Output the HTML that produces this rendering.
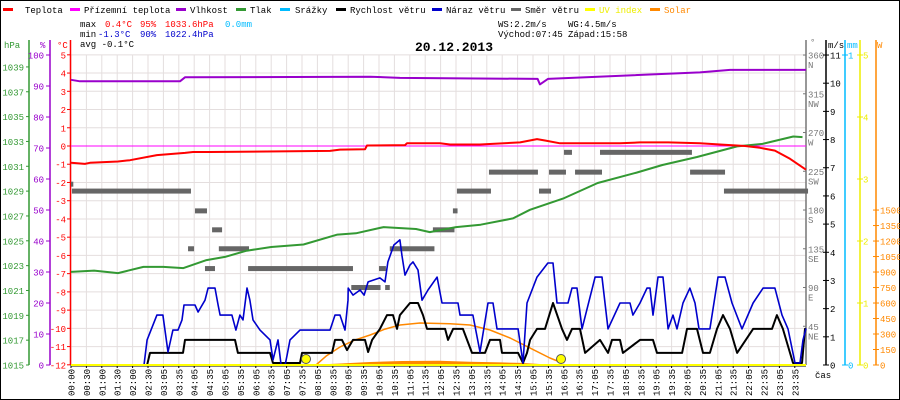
<!DOCTYPE html>
<html><head><meta charset="utf-8"><style>
html,body{margin:0;padding:0;background:#fff;}
svg{display:block;font-family:"Liberation Mono",monospace;font-size:9px;}
</style></head><body>
<svg id="c" width="900" height="400" viewBox="0 0 900 400">
<rect x="0.5" y="0.5" width="899" height="399" fill="#fff" stroke="#000"/>
<g id="legend">
 <g><rect x="3" y="8" width="10" height="3" fill="#f00"/><text x="25" y="13">Teplota</text></g>
 <g><rect x="70" y="8" width="10" height="3" fill="#f0f"/><text x="84" y="13">Přízemní teplota</text></g>
 <g><rect x="176" y="8" width="10" height="3" fill="#90c"/><text x="190" y="13">Vlhkost</text></g>
 <g><rect x="236" y="8" width="10" height="3" fill="#393"/><text x="250" y="13">Tlak</text></g>
 <g><rect x="280" y="8" width="10" height="3" fill="#0bf"/><text x="295" y="13">Srážky</text></g>
 <g><rect x="336" y="8" width="10" height="3" fill="#000"/><text x="350" y="13">Rychlost větru</text></g>
 <g><rect x="432" y="8" width="10" height="3" fill="#00c"/><text x="446" y="13">Náraz větru</text></g>
 <g><rect x="511" y="8" width="10" height="3" fill="#666"/><text x="525" y="13">Směr větru</text></g>
 <g><rect x="585" y="8" width="10" height="3" fill="#ff0"/><text x="599" y="13" fill="#ee0">UV index</text></g>
 <g><rect x="650" y="8" width="10" height="3" fill="#f80"/><text x="664" y="13" fill="#f80">Solar</text></g>
</g>
<g>
 <text x="80" y="27">max</text><text x="105" y="27" fill="#f00">0.4°C</text><text x="140" y="27" fill="#f00">95%</text><text x="165" y="27" fill="#f00">1033.6hPa</text><text x="225" y="27" fill="#0bf">0.0mm</text>
 <text x="80" y="37">min</text><text x="98" y="37" fill="#00c">-1.3°C</text><text x="140" y="37" fill="#00c">90%</text><text x="165" y="37" fill="#00c">1022.4hPa</text>
 <text x="80" y="47">avg -0.1°C</text>
 <text x="498" y="27">WS:2.2m/s</text><text x="568" y="27">WG:4.5m/s</text>
 <text x="498" y="37">Východ:07:45</text><text x="568" y="37">Západ:15:58</text>
</g>
<text x="415" y="51" font-weight="bold" font-size="13">20.12.2013</text>
<g id="grid"></g>
<g id="axes"></g>
<g id="series"></g>
</svg>
<script>
const slotLabels=["00:00","00:30","01:00","01:30","02:00","02:30","03:05","03:35","04:05","04:35","05:05","05:35","06:05","06:35","07:05","07:35","08:05","08:35","09:05","09:35","10:05","10:35","11:05","11:35","12:05","12:35","13:05","13:35","14:05","14:35","15:05","15:35","16:05","16:35","17:05","17:35","18:05","18:35","19:05","19:35","20:05","20:35","21:05","21:35","22:05","22:35","23:05","23:35"];
const tempSlots=[0,0.9,1.23,3.05,3.83,5.58,7.4,7.92,9.03,16.82,17.47,19.09,19.22,21.69,21.82,23.96,24.61,26.56,29.16,30.26,30.78,31.75,35.65,36.95,38.77,40.84,42.14,43.77,44.74,45.71,46.69,47.73];
const tempVals=[-0.92,-0.98,-0.92,-0.85,-0.78,-0.5,-0.38,-0.33,-0.33,-0.27,-0.2,-0.18,0.03,0.05,0.15,0.15,0.08,0.08,0.2,0.38,0.3,0.15,0.15,0.2,0.2,0.15,0.08,0.0,-0.1,-0.25,-0.7,-1.3];
const groundSlots=[0,47.73];
const groundVals=[0,0];
const humSlots=[0,0.58,7.08,7.4,19.42,21.36,30.3,30.45,30.97,40.84,42.79,47.73];
const humVals=[92,91.5,91.5,92.8,93.0,92.6,92.3,90.5,92.3,94.4,95.2,95.2];
const presSlots=[0,1.5,3.05,4.7,6,7.3,8.8,10,11.4,13,15.1,17.3,18.5,20.3,22.4,23.3,25,26.6,28.7,29.8,31.95,34.2,36.75,38.4,40.65,43.25,44.9,46.9,47.5];
const presVals=[1022.5,1022.6,1022.4,1022.9,1022.9,1022.8,1023.45,1023.7,1024.2,1024.5,1024.7,1025.5,1025.6,1026.1,1025.95,1025.7,1026.1,1026.3,1026.8,1027.5,1028.4,1029.65,1030.5,1031.1,1031.75,1032.6,1032.8,1033.4,1033.35];
const gustSlots=[0,4.74,4.94,5.58,5.97,6.3,6.62,6.95,7.21,7.34,8.05,8.25,8.7,8.9,9.35,9.55,9.68,10.45,10.71,10.97,11.17,11.43,11.62,11.82,12.27,12.92,13.12,13.44,13.64,13.9,14.03,14.22,14.87,16.82,17.14,17.47,17.79,17.99,18.0,18.31,18.77,19.03,19.29,20.06,20.39,20.58,20.97,21.36,21.49,21.69,22.01,22.21,22.53,22.79,23.18,23.77,24.09,25.13,25.26,26.1,26.56,27.08,27.4,27.66,29.03,29.35,29.61,30.26,30.97,31.3,31.56,32.27,32.53,32.86,33.18,34.03,34.48,34.87,35.65,36.3,36.49,36.95,37.4,37.6,37.79,38.12,38.44,38.77,39.09,39.35,39.74,40.19,40.52,40.78,41.49,42.01,42.47,42.92,43.57,44.29,44.94,45.71,46.17,46.56,47.01,47.34,47.53,47.73];
const gustVals=[0,0,0.89,1.77,1.77,0.46,1.24,1.24,1.6,2.13,2.13,1.88,2.3,2.73,2.73,2.13,1.77,1.77,1.24,1.77,1.6,2.73,2.3,1.6,1.24,0.89,0.18,0.89,0,0,0.35,0.89,1.24,1.24,1.77,1.77,1.24,2.3,2.73,2.48,2.66,2.48,2.95,3.09,2.95,3.66,4.26,4.44,3.9,3.19,3.55,3.66,3.37,2.3,2.66,3.12,2.2,2.2,1.77,1.77,0.46,2.2,2.2,1.28,1.28,0.07,2.2,3.12,3.62,3.62,2.2,2.2,2.73,2.73,1.28,3.12,3.12,1.28,2.2,2.2,1.77,2.2,2.73,2.73,1.77,3.12,3.12,1.28,1.77,1.28,2.2,2.73,2.2,1.28,1.28,3.12,3.12,2.2,1.28,2.2,2.73,2.73,1.77,1.28,0.07,0.07,0.89,1.3];
const speedSlots=[0,4.94,5.13,7.27,7.4,10.65,10.84,12.92,13.12,14.87,15.0,16.95,17.14,17.6,17.92,18.31,19.09,19.29,19.55,20.06,20.52,20.91,21.17,21.36,22.01,22.53,22.86,23.12,24.29,24.48,24.81,25.45,26.04,26.88,27.21,27.86,27.99,29.03,29.35,29.61,29.81,30.26,30.78,31.3,31.88,32.21,32.53,33.05,33.38,34.35,34.87,35.13,35.65,35.84,36.95,37.79,38.05,39.68,40.0,40.65,41.04,41.49,41.95,42.34,42.79,43.25,44.29,45.52,45.84,46.23,46.88,47.47,47.66,47.73];
const speedVals=[0,0,0.43,0.43,0.89,0.89,0.43,0.43,0.07,0.07,0.43,0.43,0.89,0.89,0.53,0.89,0.89,0.46,0.89,1.28,1.77,1.77,1.28,1.77,2.2,2.2,1.77,1.28,1.28,0.89,1.28,1.28,0.43,0.43,0.89,0.89,0.43,0.43,0.07,0.43,0.89,1.28,1.28,2.2,1.28,0.89,1.28,1.28,0.43,0.89,0.43,0.89,0.89,0.43,0.89,0.89,0.43,0.43,1.28,1.28,0.43,0.43,1.28,1.77,1.28,0.43,1.28,1.28,1.77,1.28,0.07,0.07,1.28,1.28];
const dirStart=[0,0.06,8.05,9.16,7.6,9.6,8.7,11.5,20.0,18.2,20.4,20.7,23.5,24.8,25.06,27.14,30.39,31.04,32.01,32.73,34.35,40.2,42.4];
const dirEnd=[0.15,7.79,8.83,9.81,7.99,11.56,9.35,18.31,20.45,20.1,20.7,23.6,24.9,25.1,27.27,30.32,31.17,32.14,32.53,34.48,40.32,42.47,47.86];
const dirVals=[210,202,179,157,135,135,112,112,112,90,90,135,157,179,202,224,202,224,247,224,247,224,202];
const solarMaxSlots=[15.91,16.6,17.47,18.4,19.42,20.39,21.36,22.66,24.61,25.91,27.21,28.51,29.81,31.1,31.75];
const solarMaxVals=[0,90,174,240,290,348,387,407,400,387,339,261,164,68,29];
const solarSlots=[16.4,17.5,19.4,21.5,23.9,25.9,27.9,29.2,30.7,31.1];
const solarVals=[7,15,29,39,42,32,25,20,7,0];
const sunSlots=[15.26,31.82];

const NS="http://www.w3.org/2000/svg";
const svg=document.getElementById('c');
const G=document.getElementById('grid'),A=document.getElementById('axes'),S=document.getElementById('series');
const X0=71,DX=15.4,XR=806,YB=365,YT=55;
const xS=s=>X0+s*DX;
const yT=t=>146-t*18.235;
const yH=h=>YB-h*3.1;
const yP=p=>YB-(p-1015)*12.42;
const yV=v=>YB-v*28.18;
const yD=d=>YB-d*0.861;
const yW=w=>YB-w*0.1033;
function mk(tag,at,parent){const e=document.createElementNS(NS,tag);for(const k in at)e.setAttribute(k,at[k]);(parent||svg).appendChild(e);return e;}
function txt(x,y,s,fill,anchor,parent){const e=mk('text',{x:x,y:y,fill:fill||'#000','text-anchor':anchor||'start'},parent);e.textContent=s;return e;}

for(let i=0;i<slotLabels.length;i++){
  const l=mk('line',{x1:xS(i),x2:xS(i),y1:YT,y2:YB,stroke:'#e4dede','stroke-width':1},G);
  
  
  const tk=mk('line',{x1:xS(i),x2:xS(i),y1:YB,y2:YB+3,stroke:'#000'},G);
  
  
  const t=txt(0,0,slotLabels[i],'#000','start',G);
  t.setAttribute('transform','translate('+(xS(i)+3.5)+',396) rotate(-90)');
  
  
}
for(let t=-12;t<=5;t++){
  const l=mk('line',{x1:X0,x2:XR,y1:yT(t),y2:yT(t),stroke:'#e4dede'},G);
  
  
}
function axis(x,y1,col,name){const l=mk('line',{x1:x,x2:x,y1:y1,y2:YB,stroke:col,'stroke-width':1.5},A);}
axis(29,40,'#393','hpa-axis');axis(50,40,'#90c','humidity-axis');axis(70.5,40,'#f00','temperature-axis');
axis(806,40,'#777','direction-axis');axis(826,40,'#000','wind-axis');axis(845,40,'#0bf','rain-axis');axis(860,40,'#ee0','uv-axis');axis(876,40,'#f80','solar-axis');
let e;
e=txt(4,48,'hPa','#393','start',A);
e=txt(40,48,'%','#90c','start',A);
e=txt(57,48,'°C','#f00','start',A);
e=txt(810,45,'°','#777','start',A);
e=txt(828,48,'m/s','#000','start',A);
e=txt(847,48,'mm','#0bf','start',A);
e=txt(877,48,'W','#f80','start',A);
e=txt(815,378,'čas','#000','start',A);
for(let p=1015;p<=1039;p+=2){const y=yP(p);mk('line',{x1:26,x2:29,y1:y,y2:y,stroke:'#393'},A);e=txt(24,y+3.5,String(p),'#393','end',A);}
for(let h=0;h<=100;h+=10){const y=yH(h);mk('line',{x1:46,x2:50,y1:y,y2:y,stroke:'#90c'},A);e=txt(44,y+3.5,String(h),'#90c','end',A);}
for(let t=-12;t<=5;t++){const y=yT(t);mk('line',{x1:67,x2:70,y1:y,y2:y,stroke:'#f00'},A);e=txt(66,y+3.5,String(t),'#f00','end',A);}
const compass=['NE','E','SE','S','SW','W','NW','N'];
for(let k=1;k<=8;k++){const d=k*45,y=yD(d);mk('line',{x1:803,x2:806,y1:y,y2:y,stroke:'#777'},A);e=txt(808,y+3.5,String(d),'#777','start',A);e=txt(808,y+13,compass[k-1],'#777','start',A);}
for(let v=0;v<=11;v++){const y=yV(v);mk('line',{x1:823,x2:829,y1:y,y2:y,stroke:'#000'},A);e=txt(830,y+3.5,String(v),'#000','start',A);}
for(let m=0;m<=1;m++){const y=YB-m*310;mk('line',{x1:842,x2:848,y1:y,y2:y,stroke:'#0bf'},A);e=txt(848,y+3.5,String(m),'#0bf','start',A);}
for(let u=0;u<=5;u++){const y=YB-u*62;mk('line',{x1:857,x2:863,y1:y,y2:y,stroke:'#ee0'},A);e=txt(863,y+3.5,String(u),'#ee0','start',A);}
for(let w=0;w<=1500;w+=150){const y=yW(w);mk('line',{x1:873,x2:879,y1:y,y2:y,stroke:'#f80'},A);e=txt(880,y+3.5,String(w),'#f80','start',A);}

function line(xs,vs,yf,col,w,name){
  const pts=xs.map((s,i)=>xS(s).toFixed(1)+','+yf(vs[i]).toFixed(1)).join(' ');
  const p=mk('polyline',{points:pts,fill:'none',stroke:col,'stroke-width':w,'stroke-linejoin':'round'},S);
  
  
}
{const pts=[xS(solarSlots[0]).toFixed(1)+','+YB].concat(solarSlots.map((s,i)=>xS(s).toFixed(1)+','+yW(solarVals[i]).toFixed(1))).concat([xS(solarSlots[solarSlots.length-1]).toFixed(1)+','+YB]).join(' ');
 const p=mk('polygon',{points:pts,fill:'#f80'},S);
 
 }
line(solarMaxSlots,solarMaxVals,yW,'#f80',1.5,'solar-max-line');
for(let i=0;i<dirVals.length;i++){
  const r=mk('rect',{x:xS(dirStart[i]),y:yD(dirVals[i])-2.5,width:xS(dirEnd[i])-xS(dirStart[i]),height:5,fill:'#666'},S);
  
  
}
line(groundSlots,groundVals,yT,'#f0f',1,'ground-temperature-line');
line(humSlots,humVals,yH,'#90c',2,'humidity-line');
line(presSlots,presVals,yP,'#393',2,'pressure-line');
line(tempSlots,tempVals,yT,'#f00',2,'temperature-line');
line(speedSlots,speedVals,yV,'#000',2,'wind-speed-line');
line(gustSlots,gustVals,yV,'#00c',1.6,'wind-gust-line');
{const l=mk('line',{x1:X0,x2:XR,y1:YB+1,y2:YB+1,stroke:'#000'},S);
 const u=mk('line',{x1:X0,x2:XR,y1:YB,y2:YB,stroke:'#ff0','stroke-width':2},S);}
for(let i=0;i<sunSlots.length;i++){
  const c=mk('circle',{cx:xS(sunSlots[i]),cy:359,r:4.5,fill:'#ff0',stroke:'#555'},S);
  
  
}
</script>
</body></html>
